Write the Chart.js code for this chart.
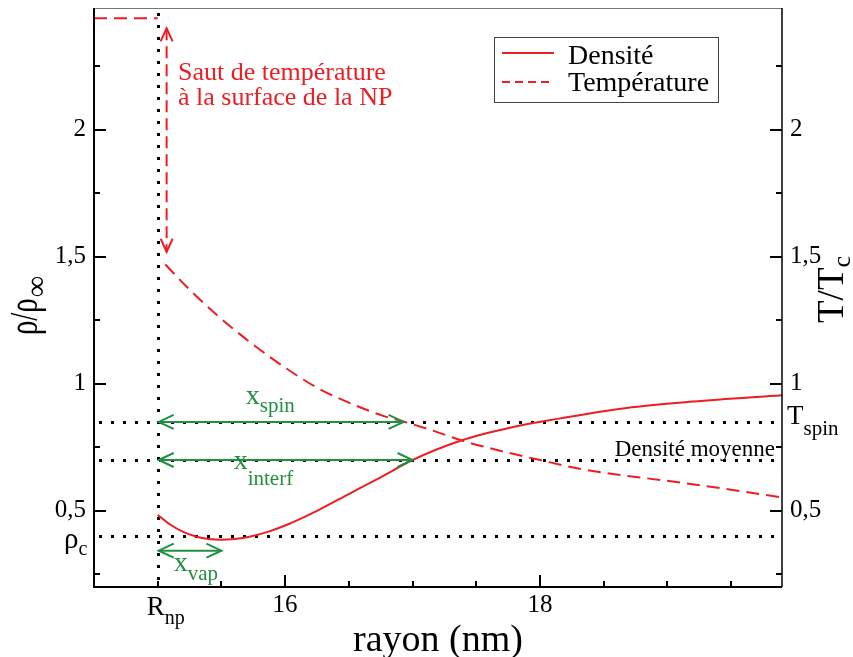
<!DOCTYPE html>
<html>
<head>
<meta charset="utf-8">
<script src="https://cdn.jsdelivr.net/npm/chart.js@4/dist/chart.umd.min.js"></script>
<style>
html,body{margin:0;padding:0;background:#fff;}
#wrap{width:853px;height:657px;position:relative;}
</style>
</head>
<body>
<div id="wrap"><canvas id="c"></canvas></div>
<script>
// ---- data ----
const densityX = [15.0, 15.1, 15.2, 15.3, 15.4, 15.5, 15.6, 15.73, 15.87, 16.0, 16.25, 16.5, 16.75, 17.0, 17.37, 17.79, 18.15, 18.68, 19.2, 19.9];
const densityY = [0.484, 0.445, 0.417, 0.399, 0.389, 0.386, 0.389, 0.399, 0.418, 0.442, 0.50, 0.566, 0.632, 0.70, 0.775, 0.83, 0.863, 0.905, 0.93, 0.955];
const temperatureX = [14.5, 15.0, 15.03, 15.06, 15.25, 15.46, 15.73, 16.0, 16.25, 16.5, 16.77, 16.94, 17.14, 17.4, 17.7, 18.0, 18.3, 18.6, 19.0, 19.5, 19.9];
const temperatureY = [2.44, 2.44, null, 1.47, 1.371, 1.273, 1.162, 1.064, 0.985, 0.926, 0.874, 0.85, 0.819, 0.775, 0.735, 0.70, 0.667, 0.643, 0.618, 0.583, 0.553];

const xLabeledTicks = [16, 18];
const xMinorTicks = [15, 15.5, 16.5, 17, 17.5, 18.5, 19, 19.5];
const yLabeledTicks = [0.5, 1, 1.5, 2];
const yMinorTicks = [0.25, 0.75, 1.25, 1.75, 2.25];

const rNp = 15;                       // R_np position
const refLinesY = [0.85, 0.7, 0.4];   // T_spin, densité moyenne, rho_c
const rhoC = 0.4;
const tSpin = 0.85;
const densiteMoyenne = 0.7;
const arrowLevels = [0.85, 0.7, 0.343];
const arrowEnds = [16.93, 17.0, 15.5];
const arrowSubs = ['spin', 'interf', 'vap'];
const jumpX = 15.07, jumpTop = 2.40, jumpBottom = 1.52;

const SERIF = "'Liberation Serif', 'Times New Roman', serif";
const RED = 'rgb(236,30,36)';
const GREEN = 'rgb(34,143,64)';

function subText(ctx, main, sub, x, y, mainSize, subSize, drop, color) {
  ctx.fillStyle = color;
  ctx.textAlign = 'left';
  ctx.textBaseline = 'alphabetic';
  ctx.font = mainSize + 'px ' + SERIF;
  ctx.fillText(main, x, y);
  const w = ctx.measureText(main).width;
  ctx.font = subSize + 'px ' + SERIF;
  ctx.fillText(sub, x + w, y + drop);
}

function head(ctx, tx, ty, dx, dy, len, half) {
  const px = -dy, py = dx;
  ctx.beginPath();
  ctx.moveTo(tx - dx * len + px * half, ty - dy * len + py * half);
  ctx.lineTo(tx, ty);
  ctx.lineTo(tx - dx * len - px * half, ty - dy * len - py * half);
  ctx.stroke();
}

function noPad(s) { s.paddingTop = 0; s.paddingBottom = 0; s.paddingLeft = 0; s.paddingRight = 0; }

const overlay = {
  id: 'overlay',
  beforeDatasetsDraw(chart) {
    const { ctx, chartArea: a, scales: { x, y } } = chart;
    ctx.save();
    ctx.strokeStyle = '#000';
    ctx.lineWidth = 3;
    ctx.setLineDash([3, 9]);
    refLinesY.forEach(v => {
      const py = Math.round(y.getPixelForValue(v)) + 0.5;
      ctx.beginPath(); ctx.moveTo(a.left + 5, py); ctx.lineTo(a.right, py); ctx.stroke();
    });
    const px = Math.round(x.getPixelForValue(rNp)) + 0.5;
    ctx.beginPath(); ctx.moveTo(px, a.top + 5); ctx.lineTo(px, a.bottom); ctx.stroke();
    ctx.restore();
  },
  afterDatasetsDraw(chart) {
    const { ctx, chartArea: a, scales: { x, y } } = chart;
    ctx.save();
    // green arrows
    ctx.strokeStyle = GREEN; ctx.lineWidth = 2; ctx.setLineDash([]);
    const x0 = x.getPixelForValue(rNp) + 1;
    arrowLevels.forEach((lv, i) => {
      const py = y.getPixelForValue(lv);
      const x1 = x.getPixelForValue(arrowEnds[i]);
      ctx.beginPath(); ctx.moveTo(x0, py); ctx.lineTo(x1, py); ctx.stroke();
      head(ctx, x0, py, -1, 0, 15, 7);
      head(ctx, x1, py, 1, 0, 15, 7);
    });
    // green labels
    const ySpin = y.getPixelForValue(arrowLevels[0]);
    const yInt = y.getPixelForValue(arrowLevels[1]);
    const yVap = y.getPixelForValue(arrowLevels[2]);
    subText(ctx, 'x', arrowSubs[0], x0 + 87, ySpin - 18, 28, 21, 8, GREEN);
    subText(ctx, 'x', arrowSubs[1], x0 + 75, yInt + 9, 28, 21, 16, GREEN);
    subText(ctx, 'x', arrowSubs[2], x0 + 15, yVap + 20, 28, 21, 9, GREEN);

    // red double arrow (temperature jump)
    ctx.strokeStyle = RED; ctx.lineWidth = 2;
    const jx = x.getPixelForValue(jumpX);
    const jt = y.getPixelForValue(jumpTop), jb = y.getPixelForValue(jumpBottom);
    ctx.setLineDash([12, 6]);
    ctx.beginPath(); ctx.moveTo(jx, jt); ctx.lineTo(jx, jb); ctx.stroke();
    ctx.setLineDash([]);
    head(ctx, jx, jt, 0, -1, 13, 6);
    head(ctx, jx, jb, 0, 1, 13, 6);
    ctx.fillStyle = RED; ctx.font = '26px ' + SERIF; ctx.textAlign = 'left'; ctx.textBaseline = 'alphabetic';
    ctx.fillText('Saut de température', 178, 80);
    ctx.fillText('à la surface de la NP', 178, 105);

    // "Densité moyenne"
    ctx.fillStyle = '#000'; ctx.font = '23px ' + SERIF; ctx.textAlign = 'right';
    ctx.fillText('Densité moyenne', a.right - 7, y.getPixelForValue(densiteMoyenne) - 4);

    // legend
    ctx.strokeStyle = '#444'; ctx.lineWidth = 1;
    ctx.strokeRect(494.5, 37.5, 224, 65);
    ctx.strokeStyle = RED; ctx.lineWidth = 2;
    ctx.beginPath(); ctx.moveTo(502, 53); ctx.lineTo(554, 53); ctx.stroke();
    ctx.setLineDash([8, 5]);
    ctx.beginPath(); ctx.moveTo(502, 82); ctx.lineTo(554, 82); ctx.stroke();
    ctx.setLineDash([]);
    ctx.fillStyle = '#000'; ctx.font = '28px ' + SERIF; ctx.textAlign = 'left';
    ctx.fillText(chart.data.datasets[0].label, 568, 64);
    ctx.fillText(chart.data.datasets[1].label, 568, 91);

    // frame
    ctx.strokeStyle = '#777'; ctx.lineWidth = 1;
    ctx.beginPath(); ctx.moveTo(a.left, a.top + 0.5); ctx.lineTo(a.right, a.top + 0.5); ctx.stroke();
    ctx.strokeStyle = '#000'; ctx.lineWidth = 2;
    ctx.beginPath(); ctx.moveTo(a.left, a.top); ctx.lineTo(a.left, a.bottom); ctx.lineTo(a.right, a.bottom); ctx.stroke();
    ctx.lineWidth = 1.5;
    ctx.beginPath(); ctx.moveTo(a.right, a.top); ctx.lineTo(a.right, a.bottom); ctx.stroke();

    // inward ticks
    ctx.lineWidth = 2;
    const yt = yLabeledTicks.map(v => [v, 12]).concat(yMinorTicks.map(v => [v, 6]));
    yt.forEach(([v, len]) => {
      const py = Math.round(y.getPixelForValue(v));
      ctx.beginPath(); ctx.moveTo(a.left, py); ctx.lineTo(a.left + len, py); ctx.stroke();
      ctx.beginPath(); ctx.moveTo(a.right, py); ctx.lineTo(a.right - len, py); ctx.stroke();
    });
    const xt = xLabeledTicks.map(v => [v, 12]).concat(xMinorTicks.map(v => [v, 6]));
    xt.forEach(([v, len]) => {
      const px = Math.round(x.getPixelForValue(v));
      ctx.beginPath(); ctx.moveTo(px, a.bottom); ctx.lineTo(px, a.bottom - len); ctx.stroke();
    });

    // special tick labels with subscripts
    subText(ctx, 'R', 'np', x.getPixelForValue(rNp) - 11, 615, 27, 20, 9, '#000');
    subText(ctx, 'ρ', 'c', 64, y.getPixelForValue(rhoC) + 12, 29, 20, 7, '#000');
    subText(ctx, 'T', 'spin', a.right + 5, y.getPixelForValue(tSpin) + 2, 27, 21, 11, '#000');

    // rotated axis titles
    ctx.save();
    ctx.translate(37, 335); ctx.rotate(-Math.PI / 2);
    ctx.fillStyle = '#000'; ctx.textAlign = 'left'; ctx.textBaseline = 'alphabetic';
    ctx.font = '40px ' + SERIF;
    const rw = ctx.measureText('ρ/ρ').width * 0.72;
    ctx.save(); ctx.scale(0.72, 1); ctx.fillText('ρ/ρ', 0, 0); ctx.restore();
    ctx.font = '30px ' + SERIF;
    ctx.fillText('∞', rw + 1, 9);
    ctx.restore();
    ctx.save();
    ctx.translate(843, 323); ctx.rotate(-Math.PI / 2);
    subText(ctx, 'T/T', 'c', 0, 0, 37, 26, 7, '#000');
    ctx.restore();

    ctx.restore();
  }
};

const tickFont = { family: SERIF, size: 25 };
const commaLabel = v => String(v).replace('.', ',');

new Chart(document.getElementById('c'), {
  type: 'line',
  data: {
    datasets: [
      {
        label: 'Densité',
        data: densityX.map((xv, i) => ({ x: xv, y: densityY[i] })),
        borderColor: RED, borderWidth: 2, pointRadius: 0, fill: false,
        cubicInterpolationMode: 'monotone', yAxisID: 'y'
      },
      {
        label: 'Température',
        data: temperatureX.map((xv, i) => ({ x: xv, y: temperatureY[i] })),
        borderColor: RED, borderWidth: 2, borderDash: [13, 7], pointRadius: 0, fill: false,
        cubicInterpolationMode: 'monotone', spanGaps: false, yAxisID: 'y2'
      }
    ]
  },
  options: {
    responsive: true,
    maintainAspectRatio: false,
    animation: false,
    layout: { padding: { top: 8, left: 0, right: 0, bottom: 0 } },
    plugins: { legend: { display: false }, tooltip: { enabled: false } },
    scales: {
      x: {
        type: 'linear', min: 14.5, max: 19.9,
        afterBuildTicks: s => { s.ticks = xLabeledTicks.map(v => ({ value: v })); },
        afterFit: s => { s.height = 70; noPad(s); },
        grid: { display: false, drawTicks: false }, border: { display: false },
        ticks: { font: tickFont, color: '#000', padding: 3, maxRotation: 0, autoSkip: false, callback: v => String(v) },
        title: { display: true, text: 'rayon (nm)', font: { family: SERIF, size: 38 }, color: '#000', padding: { top: 0, bottom: -7 } }
      },
      y: {
        position: 'left', min: 0.2, max: 2.48,
        afterBuildTicks: s => { s.ticks = yLabeledTicks.map(v => ({ value: v })); },
        afterFit: s => { s.width = 94; noPad(s); },
        grid: { display: false, drawTicks: false }, border: { display: false },
        ticks: { font: tickFont, color: '#000', padding: 8, autoSkip: false, callback: commaLabel }
      },
      y2: {
        position: 'right', min: 0.2, max: 2.48,
        afterBuildTicks: s => { s.ticks = yLabeledTicks.map(v => ({ value: v })); },
        afterFit: s => { s.width = 71; noPad(s); },
        grid: { display: false, drawTicks: false }, border: { display: false },
        ticks: { font: tickFont, color: '#000', padding: 8, autoSkip: false, callback: commaLabel }
      }
    }
  },
  plugins: [overlay]
});
</script>
</body>
</html>
